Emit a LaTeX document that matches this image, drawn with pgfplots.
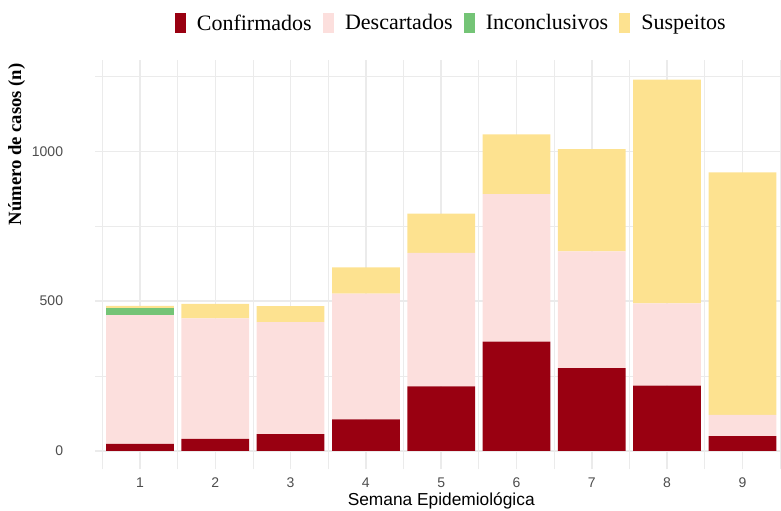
\documentclass[border=0pt]{standalone}
\usepackage{fontspec}
\setmainfont{Liberation Serif}
\setsansfont{Liberation Sans}
\usepackage{pgfplots}
\pgfplotsset{compat=1.18}

\definecolor{conf}{HTML}{990011}
\definecolor{desc}{HTML}{FCDFDD}
\definecolor{inco}{HTML}{74C476}
\definecolor{susp}{HTML}{FDE290}
\definecolor{gridc}{HTML}{EBEBEB}
\definecolor{tickc}{HTML}{4D4D4D}

\begin{document}
\begin{tikzpicture}
\begin{axis}[
    scale only axis,
    width=514.5pt, height=306.9pt,
    ybar stacked, bar width=0.9,
    xmin=0.4, xmax=9.51,
    ymin=-62, ymax=1305,
    xtick={1,...,9},
    ytick={0,500,1000},
    minor xtick={0.5,1.5,...,9.5},
    minor ytick={250,750,1250},
    grid=both,
    major grid style={gridc, line width=1.1pt},
    minor grid style={gridc, line width=0.55pt},
    axis line style={draw=none},
    major tick length=0pt, minor tick length=0pt,
    /pgf/number format/assume math mode=true,
    /pgf/number format/1000 sep={},
    ticklabel style={font=\sffamily\fontsize{10.5}{12}\selectfont, text=tickc, inner sep=0pt},
    xticklabel style={anchor=base, yshift=-13.8pt},
    yticklabel style={anchor=east, xshift=-23.6pt},
    xlabel={Semana Epidemiológica},
    xlabel style={at={(axis description cs:0.505,0)}, anchor=base, yshift=-27.2pt,
        font=\sffamily\fontsize{13}{15}\selectfont, inner sep=0pt},
    ylabel={Número de casos (n)},
    ylabel style={at={(axis description cs:-0.1138,0.794)}, anchor=center,
        font=\bfseries\fontsize{14}{16}\selectfont, inner sep=0pt},
    legend columns=4,
    legend image code/.code={\fill[#1] (0pt,-7.5pt) rectangle (8.5pt,7.5pt);},
    legend style={at={(axis description cs:0.518,1.09)}, anchor=center,
        draw=none, fill=none, font=\fontsize{16.5}{18}\selectfont,
        nodes={inner sep=0pt},
        /tikz/every odd column/.append style={column sep=8.25pt},
        /tikz/every even column/.append style={column sep=8.25pt}},
]
\addplot[fill=conf, draw=none] coordinates {
    (1,23)(2,40)(3,56)(4,105)(5,215)(6,365)(7,276)(8,218)(9,49)};
\addplot[fill=desc, draw=none] coordinates {
    (1,430)(2,402)(3,374)(4,420)(5,446)(6,492)(7,390)(8,274)(9,71)};
\addplot[fill=inco, draw=none] coordinates {
    (1,23)(2,0)(3,0)(4,0)(5,0)(6,0)(7,0)(8,0)(9,0)};
\addplot[fill=susp, draw=none] coordinates {
    (1,8)(2,49)(3,53)(4,88)(5,131)(6,200)(7,342)(8,748)(9,810)};
\legend{Confirmados, Descartados, Inconclusivos, Suspeitos}
\end{axis}
\pgfresetboundingbox
\path (-71.1pt,-30.5pt) rectangle (514.65pt,352pt);
\end{tikzpicture}
\end{document}
